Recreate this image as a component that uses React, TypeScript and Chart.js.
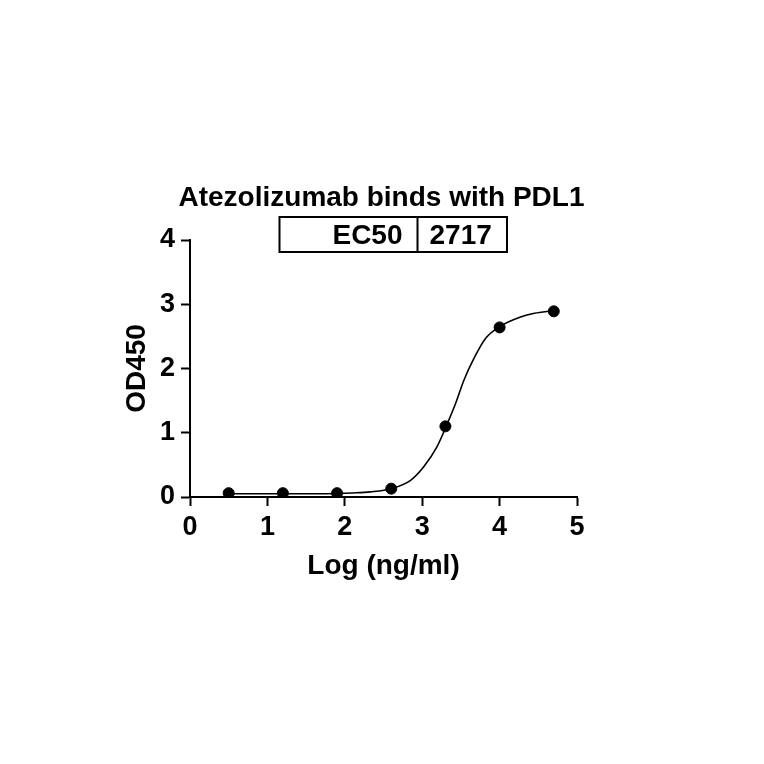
import React, { useEffect, useRef } from "react";
import { Chart, registerables } from "chart.js";

Chart.register(...registerables);

const chartTitle = "Atezolizumab binds with PDL1";
const ec50Label = "EC50";
const ec50Value = "2717";
const xAxisTitle = "Log (ng/ml)";
const yAxisTitle = "OD450";

// measured points
const logConc = [0.5, 1.2, 1.9, 2.6, 3.3, 4.0, 4.7];
const od450 = [0.06, 0.06, 0.06, 0.13, 1.1, 2.64, 2.89];

// fitted curve
const fitX = [0.5, 1.2, 1.9, 2.1, 2.33, 2.6, 2.85, 3.02, 3.19, 3.31, 3.43, 3.54, 3.67, 3.82, 4.0, 4.27, 4.45, 4.69];
const fitY = [0.05, 0.05, 0.055, 0.063, 0.08, 0.13, 0.26, 0.47, 0.78, 1.1, 1.45, 1.82, 2.16, 2.47, 2.65, 2.8, 2.86, 2.9];

const xTicks = [0, 1, 2, 3, 4, 5];
const yTicks = [0, 1, 2, 3, 4];

const FONT = '"Liberation Sans", Arial, Helvetica, sans-serif';

const headerPlugin = {
  id: "headerPlugin",
  afterDraw(chart: any) {
    const { ctx, chartArea } = chart;
    const cx = (chartArea.left + chartArea.right) / 2;
    ctx.save();
    ctx.fillStyle = "#000";
    ctx.strokeStyle = "#000";
    ctx.font = `bold 28px ${FONT}`;
    ctx.textBaseline = "alphabetic";
    ctx.textAlign = "center";
    ctx.fillText(chartTitle, cx - 2, chartArea.top - 34);

    const left = chartArea.left + 89.5;
    const right = chartArea.left + 317;
    const top = chartArea.top - 23;
    const bottom = chartArea.top + 12;
    const divider = chartArea.left + 227.5;
    ctx.lineWidth = 2;
    ctx.strokeRect(left, top, right - left, bottom - top);
    ctx.beginPath();
    ctx.moveTo(divider, top);
    ctx.lineTo(divider, bottom);
    ctx.stroke();

    ctx.font = `bold 28px ${FONT}`;
    ctx.textAlign = "right";
    ctx.fillText(ec50Label, divider - 15, chartArea.top + 3.5);
    ctx.textAlign = "left";
    ctx.fillText(ec50Value, divider + 12, chartArea.top + 3.5);
    ctx.restore();
  },
};

export default function App() {
  const canvasRef = useRef<HTMLCanvasElement | null>(null);

  useEffect(() => {
    if (!canvasRef.current) return;
    const chart = new Chart(canvasRef.current, {
      type: "scatter",
      data: {
        datasets: [
          {
            label: "OD450",
            data: logConc.map((x, i) => ({ x, y: od450[i] })),
            pointRadius: 5.5,
            pointHoverRadius: 5.5,
            pointBackgroundColor: "#000",
            pointBorderColor: "#000",
            borderColor: "#000",
            backgroundColor: "#000",
            showLine: false,
          },
          {
            label: "Fit",
            data: fitX.map((x, i) => ({ x, y: fitY[i] })),
            showLine: true,
            pointRadius: 0,
            borderColor: "#000",
            borderWidth: 1.6,
            cubicInterpolationMode: "monotone",
            fill: false,
          },
        ],
      },
      options: {
        responsive: false,
        animation: false,
        events: [],
        layout: { padding: { left: 90, right: 187, top: 240, bottom: 167 } },
        plugins: {
          legend: { display: false },
          title: { display: false },
          tooltip: { enabled: false },
        },
        scales: {
          x: {
            type: "linear",
            min: 0,
            max: 5,
            afterBuildTicks: (scale: any) => {
              scale.ticks = xTicks.map((v) => ({ value: v }));
            },
            afterFit: (scale: any) => {
              scale.height = 100;
            },
            grid: {
              drawOnChartArea: false,
              drawTicks: true,
              tickLength: 9,
              tickWidth: 2,
              tickColor: "#000",
            },
            border: { display: true, color: "#000", width: 2 },
            ticks: {
              color: "#000",
              padding: 5,
              font: { family: FONT, size: 27, weight: "bold" },
              maxRotation: 0,
            },
            title: {
              display: true,
              text: xAxisTitle,
              color: "#000",
              font: { family: FONT, size: 28, weight: "bold" },
              padding: { top: 0, bottom: 14 },
            },
          },
          y: {
            type: "linear",
            min: 0,
            max: 4,
            afterBuildTicks: (scale: any) => {
              scale.ticks = yTicks.map((v) => ({ value: v }));
            },
            afterFit: (scale: any) => {
              scale.width = 100;
            },
            grid: {
              drawOnChartArea: false,
              drawTicks: true,
              tickLength: 9,
              tickWidth: 2,
              tickColor: "#000",
            },
            border: { display: true, color: "#000", width: 2 },
            ticks: {
              color: "#000",
              padding: 6,
              font: { family: FONT, size: 27, weight: "bold" },
            },
            title: {
              display: true,
              text: yAxisTitle,
              color: "#000",
              font: { family: FONT, size: 28, weight: "bold" },
              padding: { top: 30, bottom: 0 },
            },
          },
        },
      },
      plugins: [headerPlugin],
    });
    return () => chart.destroy();
  }, []);

  return (
    <div style={{ position: "absolute", left: 0, top: 0, width: 764, height: 764, background: "#fff" }}>
      <canvas ref={canvasRef} width={764} height={764} />
    </div>
  );
}
